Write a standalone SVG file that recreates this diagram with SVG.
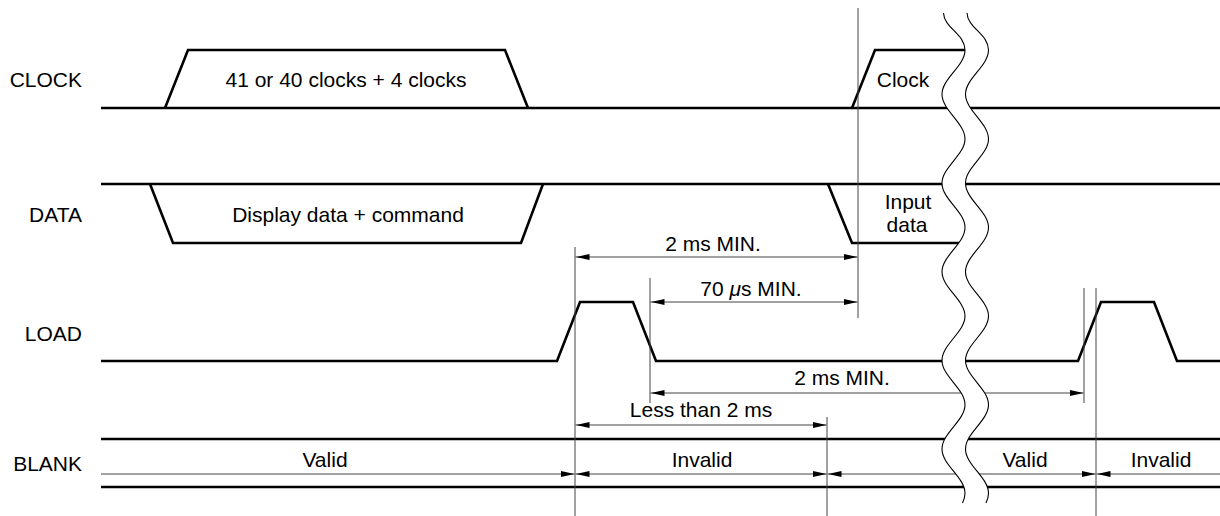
<svg xmlns="http://www.w3.org/2000/svg" xmlns:xlink="http://www.w3.org/1999/xlink" width="1220" height="516" viewBox="0 0 1220 516">
<style>
  text { font-family: "Liberation Sans", Arial, sans-serif; font-size: 21px; fill: #000; }
  .lbl { text-anchor: end; }
  .c { text-anchor: middle; }
  .sig { fill: none; stroke: #000; stroke-width: 2.6; stroke-linejoin: miter; }
  .thin { fill: none; stroke: #444; stroke-width: 1; }
  .dim { fill: none; stroke: #444; stroke-width: 1; marker-end: url(#ah); }
  .dim2 { fill: none; stroke: #444; stroke-width: 1; marker-start: url(#ah); marker-end: url(#ah); }
  .dims { fill: none; stroke: #444; stroke-width: 1; marker-start: url(#ah); }
  .wave { fill: none; stroke: #000; stroke-width: 1.1; }
</style>
<defs>
  <marker id="ah" viewBox="0 0 14 6" refX="14" refY="3" markerWidth="14" markerHeight="6" markerUnits="userSpaceOnUse" orient="auto-start-reverse">
    <path d="M0,0 L14,3 L0,6 Z" fill="#000"/>
  </marker>
  <path id="wv" d="M943.5,13 C944,28 965,34 965,50 C965,66 942,78.3 942,94.3 C942,110.3 965,122.9 965,138.9 C965,154.9 942,167.2 942,183.2 C942,199.2 965,211.5 965,227.5 C965,243.5 942,255.8 942,271.8 C942,287.8 965,300.1 965,316.1 C965,332.1 942,344.4 942,360.4 C942,376.4 965,388.7 965,404.7 C965,420.7 942,433 942,449 C942,465 965,477.3 965,493.3 C965,498 963.5,501 962.5,503"/>
</defs>

<g id="labels">
  <text class="lbl" x="82" y="87">CLOCK</text>
  <text class="lbl" x="82" y="222">DATA</text>
  <text class="lbl" x="82" y="341">LOAD</text>
  <text class="lbl" x="82" y="471">BLANK</text>
</g>

<g id="clock">
  <path class="sig" d="M101,108 H1220"/>
  <path class="sig" d="M165,108 L188,50 L505,50 L528,108"/>
  <path class="sig" d="M852,108 L875,50 L970,50"/>
  <text class="c" x="346" y="87">41 or 40 clocks + 4 clocks</text>
  <text class="c" x="903" y="87">Clock</text>
</g>

<g id="data">
  <path class="sig" d="M101,184 H1220"/>
  <path class="sig" d="M150,184 L173,243 L521,243 L543,184"/>
  <path class="sig" d="M828,184 L852,243 L970,243"/>
  <text class="c" x="348" y="222">Display data + command</text>
  <text class="c" x="908" y="209">Input</text>
  <text class="c" x="907" y="232">data</text>
</g>

<g id="load">
  <path class="sig" d="M101,361 H557 L580,302 L633,302 L656,361 H1078 L1101,302 L1154,302 L1177,361 H1220"/>
</g>

<g id="blank">
  <path class="sig" d="M101,439 H1220"/>
  <path class="sig" d="M101,487 H1220"/>
  <text class="c" x="325" y="467">Valid</text>
  <text class="c" x="702" y="467">Invalid</text>
  <text class="c" x="1025" y="467">Valid</text>
  <text class="c" x="1161" y="467">Invalid</text>
</g>

<g id="connectors">
  <path class="thin" d="M858,8 V318"/>
  <path class="thin" d="M575,247 V516"/>
  <path class="thin" d="M650,278 V403"/>
  <path class="thin" d="M827,417 V516"/>
  <path class="thin" d="M1084,288 V403"/>
  <path class="thin" d="M1096,288 V516"/>
  <path class="dim2" d="M575.5,257 H857.5"/>
  <path class="dim2" d="M650.5,302 H857.5"/>
  <path class="dim2" d="M650.5,393 H1083.5"/>
  <path class="dim2" d="M575.5,425 H826.5"/>
  <path class="dim" d="M101,474 H574.5"/>
  <path class="dim2" d="M575.5,474 H826.5"/>
  <path class="dim2" d="M827.5,474 H1095.5"/>
  <path class="dims" d="M1096.5,474 H1220"/>
</g>

<g id="dimension-labels">
  <text class="c" x="713" y="251">2 ms MIN.</text>
  <text class="c" x="751" y="296">70 <tspan font-style="italic">μ</tspan>s MIN.</text>
  <text class="c" x="842" y="385">2 ms MIN.</text>
  <text class="c" x="701" y="417">Less than 2 ms</text>
</g>

<g id="break">
  <path fill="#fff" stroke="none" d="M943.5,13 C944,28 965,34 965,50 C965,66 942,78.3 942,94.3 C942,110.3 965,122.9 965,138.9 C965,154.9 942,167.2 942,183.2 C942,199.2 965,211.5 965,227.5 C965,243.5 942,255.8 942,271.8 C942,287.8 965,300.1 965,316.1 C965,332.1 942,344.4 942,360.4 C942,376.4 965,388.7 965,404.7 C965,420.7 942,433 942,449 C942,465 965,477.3 965,493.3 C965,498 963.5,501 962.5,503 L986,503 C987,501 988.5,498 988.5,493.3 C988.5,477.3 965.5,465 965.5,449 C965.5,433 988.5,420.7 988.5,404.7 C988.5,388.7 965.5,376.4 965.5,360.4 C965.5,344.4 988.5,332.1 988.5,316.1 C988.5,300.1 965.5,287.8 965.5,271.8 C965.5,255.8 988.5,243.5 988.5,227.5 C988.5,211.5 965.5,199.2 965.5,183.2 C965.5,167.2 988.5,154.9 988.5,138.9 C988.5,122.9 965.5,110.3 965.5,94.3 C965.5,78.3 988.5,66 988.5,50 C988.5,34 967.5,28 967,13 Z"/>
  <use xlink:href="#wv" href="#wv" class="wave"/>
  <use xlink:href="#wv" href="#wv" class="wave" transform="translate(23.5,0)"/>
</g>
</svg>
